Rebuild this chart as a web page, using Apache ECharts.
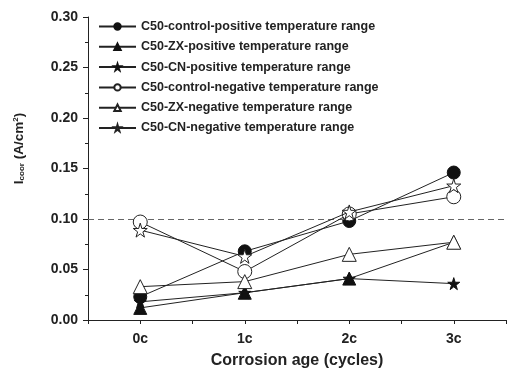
<!DOCTYPE html>
<html><head><meta charset="utf-8">
<script src="https://cdn.jsdelivr.net/npm/echarts@6/dist/echarts.min.js"></script>
<style>html,body{margin:0;padding:0;background:#fff}#c{width:508px;height:375px}</style>
</head><body><div id="c"></div>
<script>
var categories = ['0c','1c','2c','3c'];
var xPositions = [0,1,2,3];
var seriesNames = [
  'C50-control-positive temperature range',
  'C50-ZX-positive temperature range',
  'C50-CN-positive temperature range',
  'C50-control-negative temperature range',
  'C50-ZX-negative temperature range',
  'C50-CN-negative temperature range'
];
var controlPositive = [0.023, 0.068, 0.098, 0.146];
var zxPositive      = [0.012, 0.027, 0.041, 0.077];
var cnPositive      = [0.018, 0.027, 0.041, 0.036];
var controlNegative = [0.097, 0.048, 0.105, 0.122];
var zxNegative      = [0.033, 0.038, 0.065, 0.077];
var cnNegative      = [0.089, 0.063, 0.107, 0.133];
var yTicks = [0.00,0.05,0.10,0.15,0.20,0.25,0.30];
var thresholdValue = 0.10;

var FONT = 'Liberation Sans, Arial, sans-serif';
var star = 'path://M50,0 L61,35 L98,35 L68,57 L79,91 L50,70 L21,91 L32,57 L2,35 L39,35 Z';
var allData = [controlPositive, zxPositive, cnPositive, controlNegative, zxNegative, cnNegative];
var symbols = ['circle','triangle',star,'circle','triangle',star];
var sizes = [13,13,12,14,14,14];
var filled = [true,true,true,false,false,false];

var series = allData.map(function(vals, i){
  var s = {
    name: seriesNames[i],
    type: 'line',
    data: vals.map(function(v,j){return [xPositions[j], v];}),
    symbol: symbols[i],
    symbolSize: sizes[i],
    showAllSymbol: true,
    lineStyle: {color:'#222', width:1},
    itemStyle: filled[i] ? {color:'#111', borderColor:'#111', borderWidth:1} : {color:'#fff', borderColor:'#222', borderWidth:1},
    emphasis: {disabled:true},
    z: 2 + i
  };
  if (i === 0) {
    s.markLine = {
      silent: true, symbol: ['none','none'], label: {show:false},
      lineStyle: {type:[6,4], color:'#666', width:1},
      data: [{yAxis: thresholdValue}]
    };
  }
  return s;
});

var chart = echarts.init(document.getElementById('c'), null, {renderer:'canvas'});
chart.setOption({
  animation: false,
  backgroundColor: '#fff',
  textStyle: {fontFamily: FONT},
  grid: {left: 88, right: 2, top: 17, bottom: 55, outerBoundsMode: 'none', containLabel: false},
  legend: {
    orient: 'vertical', left: 98, top: 20, padding: 0,
    itemWidth: 37, itemHeight: 8, itemGap: 7.3,
    textStyle: {fontSize: 12.5, fontWeight: 'bold', color: '#222', fontFamily: FONT},
    data: seriesNames
  },
  xAxis: {
    type: 'value', min: -0.5, max: 3.5, interval: 0.5,
    axisLine: {lineStyle: {color:'#222'}},
    axisTick: {show:true, length: 4, lineStyle:{color:'#222'}},
    splitLine: {show:false},
    axisLabel: {
      color:'#222', fontSize: 14, fontWeight:'bold', margin: 12, fontFamily: FONT,
      formatter: function(v){ var k = xPositions.indexOf(v); return k >= 0 ? categories[k] : ''; }
    },
    name: 'Corrosion age (cycles)', nameLocation: 'middle', nameGap: 33,
    nameTextStyle: {color:'#222', fontSize: 16, fontWeight:'bold', fontFamily: FONT}
  },
  yAxis: {
    type: 'value', min: 0, max: 0.30, interval: 0.05,
    axisLine: {show:true, onZero:false, lineStyle: {color:'#222'}},
    axisTick: {show:true, length: 5, lineStyle:{color:'#222'}},
    minorTick: {show:true, splitNumber: 2, length: 3, lineStyle:{color:'#222'}},
    splitLine: {show:false},
    axisLabel: {
      color:'#222', fontSize: 14, fontWeight:'bold', margin: 10, fontFamily: FONT,
      formatter: function(v){ var t = yTicks.find(function(x){return Math.abs(x-v)<1e-9;}); return t===undefined ? '' : t.toFixed(2); }
    },
    name: '{i|I}{sub|coor}{i| (A/cm}{sup|2}{i|)}', nameLocation: 'middle', nameGap: 62, nameRotate: 90,
    nameTextStyle: {
      color:'#222', padding: [0,0,0,40],
      rich: {
        i: {fontSize: 13.5, fontWeight:'bold', color:'#222', fontFamily: FONT},
        sub: {fontSize: 8, fontWeight:'bold', color:'#222', verticalAlign:'bottom', padding:[6,0,0,0], fontFamily: FONT},
        sup: {fontSize: 8, fontWeight:'bold', color:'#222', verticalAlign:'top', padding:[0,0,6,0], fontFamily: FONT}
      }
    }
  },
  series: series
});
</script></body></html>
